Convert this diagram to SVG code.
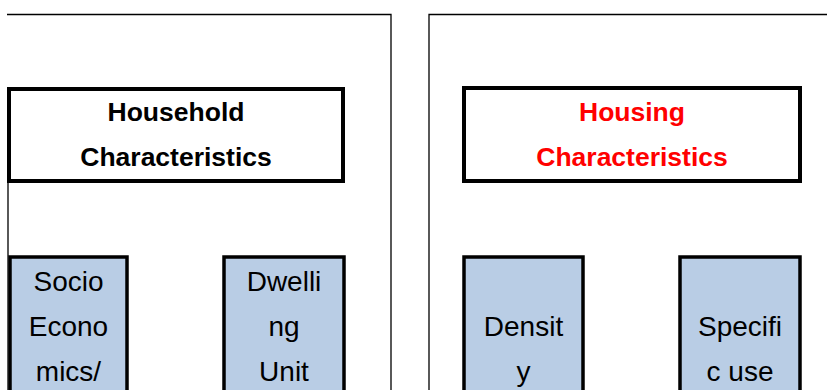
<svg xmlns="http://www.w3.org/2000/svg" width="827" height="390" viewBox="0 0 827 390">
<style>
.panel{fill:none;stroke:#000;stroke-width:1.3}
.title{fill:#fff;stroke:#000;stroke-width:4}
.box{fill:#B9CDE5;stroke:#000;stroke-width:3.5}
.tt{font-family:"Liberation Sans",Arial,sans-serif;font-weight:bold;font-size:26.5px;text-anchor:middle}
.bt{font-family:"Liberation Sans",Arial,sans-serif;font-size:28px;text-anchor:middle;fill:#000}
</style>
<rect width="827" height="390" fill="#fff"/>
<g id="panel-left">
<path class="panel" d="M7,14.5 H391 V390 M8,183 V390"/>
</g>
<g id="panel-right">
<path class="panel" d="M429,390 V14.5 H827"/>
</g>
<g id="household">
<rect class="title" x="9" y="89" width="334" height="92"/>
<text class="tt" x="176" y="121" fill="#000">Household</text>
<text class="tt" x="176" y="166" fill="#000">Characteristics</text>
</g>
<g id="housing">
<rect class="title" x="464" y="88" width="336" height="93"/>
<text class="tt" x="632" y="121" fill="#FF0000">Housing</text>
<text class="tt" x="632" y="166" fill="#FF0000">Characteristics</text>
</g>
<g id="socio">
<rect class="box" x="10" y="257" width="117" height="150"/>
<text class="bt" x="68.5" y="291">Socio</text>
<text class="bt" x="68.5" y="336">Econo</text>
<text class="bt" x="68.5" y="381">mics/</text>
</g>
<g id="dwelling">
<rect class="box" x="224" y="257" width="120" height="150"/>
<text class="bt" x="284" y="291">Dwelli</text>
<text class="bt" x="284" y="336">ng</text>
<text class="bt" x="284" y="381">Unit</text>
</g>
<g id="density">
<rect class="box" x="464" y="257" width="119" height="150"/>
<text class="bt" x="523.5" y="336">Densit</text>
<text class="bt" x="523.5" y="381">y</text>
</g>
<g id="specific">
<rect class="box" x="680" y="257" width="120" height="150"/>
<text class="bt" x="740" y="336">Specifi</text>
<text class="bt" x="740" y="381">c use</text>
</g>
<g id="connectors"></g>
</svg>
